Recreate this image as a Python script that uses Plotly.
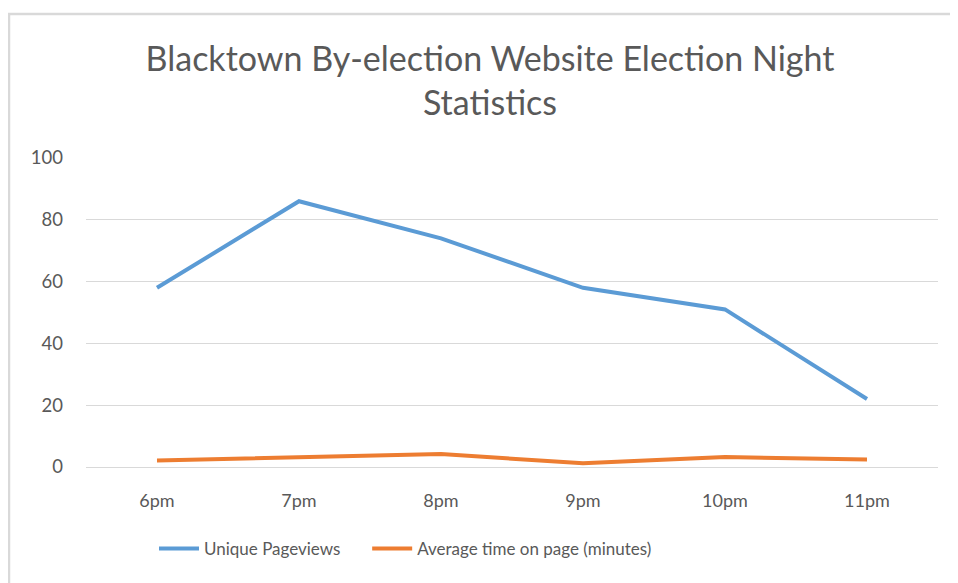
import plotly.graph_objects as go

categories = ["6pm", "7pm", "8pm", "9pm", "10pm", "11pm"]
unique_pageviews = [58, 86, 74, 58, 51, 22]
avg_time_on_page = [2.1, 3.3, 4.2, 1.2, 3.2, 2.4]
y_ticks = [0, 20, 40, 60, 80, 100]

FONT = "Lato, 'Open Sans', sans-serif"
GREY = "#595959"
PAD = "\u00a0" * 5

fig = go.Figure()
fig.add_trace(go.Scatter(x=categories, y=unique_pageviews, mode="lines",
                         name="Unique Pageviews" + PAD,
                         line=dict(color="#5B9BD5", width=4)))
fig.add_trace(go.Scatter(x=categories, y=avg_time_on_page, mode="lines",
                         name="Average time on page (minutes)",
                         line=dict(color="#ED7D31", width=4)))

# page body has an 8px margin, so the figure is drawn at (8, 8)
W, H = 950, 575
L, R, T, B = 78, 20, 150, 116
pw, ph = W - L - R, H - T - B

def px_x(x):
    return (x - L) / pw

def px_y(y):
    return (H - B - y) / ph

fig.add_shape(type="rect", xref="paper", yref="paper",
              x0=px_x(1), x1=px_x(990), y0=px_y(620), y1=px_y(6),
              line=dict(color="#D9D9D9", width=2.5), fillcolor="rgba(0,0,0,0)",
              layer="below")

fig.update_layout(
    width=W, height=H,
    margin=dict(l=L, r=R, t=T, b=B, autoexpand=False),
    paper_bgcolor="white", plot_bgcolor="white",
    font=dict(family=FONT, color=GREY, size=17),
    title=dict(text="Blacktown By-election Website Election Night<br>Statistics",
               x=482 / W, xanchor="center", y=1 - 63 / H, yanchor="middle",
               font=dict(size=34, color=GREY, family=FONT)),
    xaxis=dict(type="category", range=[-0.5, 5.5], showgrid=False,
               showline=False, ticks="",
               tickfont=dict(size=18, color=GREY), ticklabelstandoff=21,
               tickangle=0, automargin=False),
    yaxis=dict(range=[0, 100], tickvals=y_ticks, showgrid=True,
               gridcolor="#D9D9D9", gridwidth=1, zeroline=True,
               zerolinecolor="#D9D9D9", zerolinewidth=1, showline=False,
               tickfont=dict(size=18.5, color=GREY), ticklabelstandoff=22,
               automargin=False),
    legend=dict(orientation="h", x=px_x(146), xanchor="left",
                y=px_y(541), yanchor="middle",
                font=dict(size=17, color=GREY), itemwidth=40,
                traceorder="normal"),
    showlegend=True,
)

fig.write_html("out.html")
